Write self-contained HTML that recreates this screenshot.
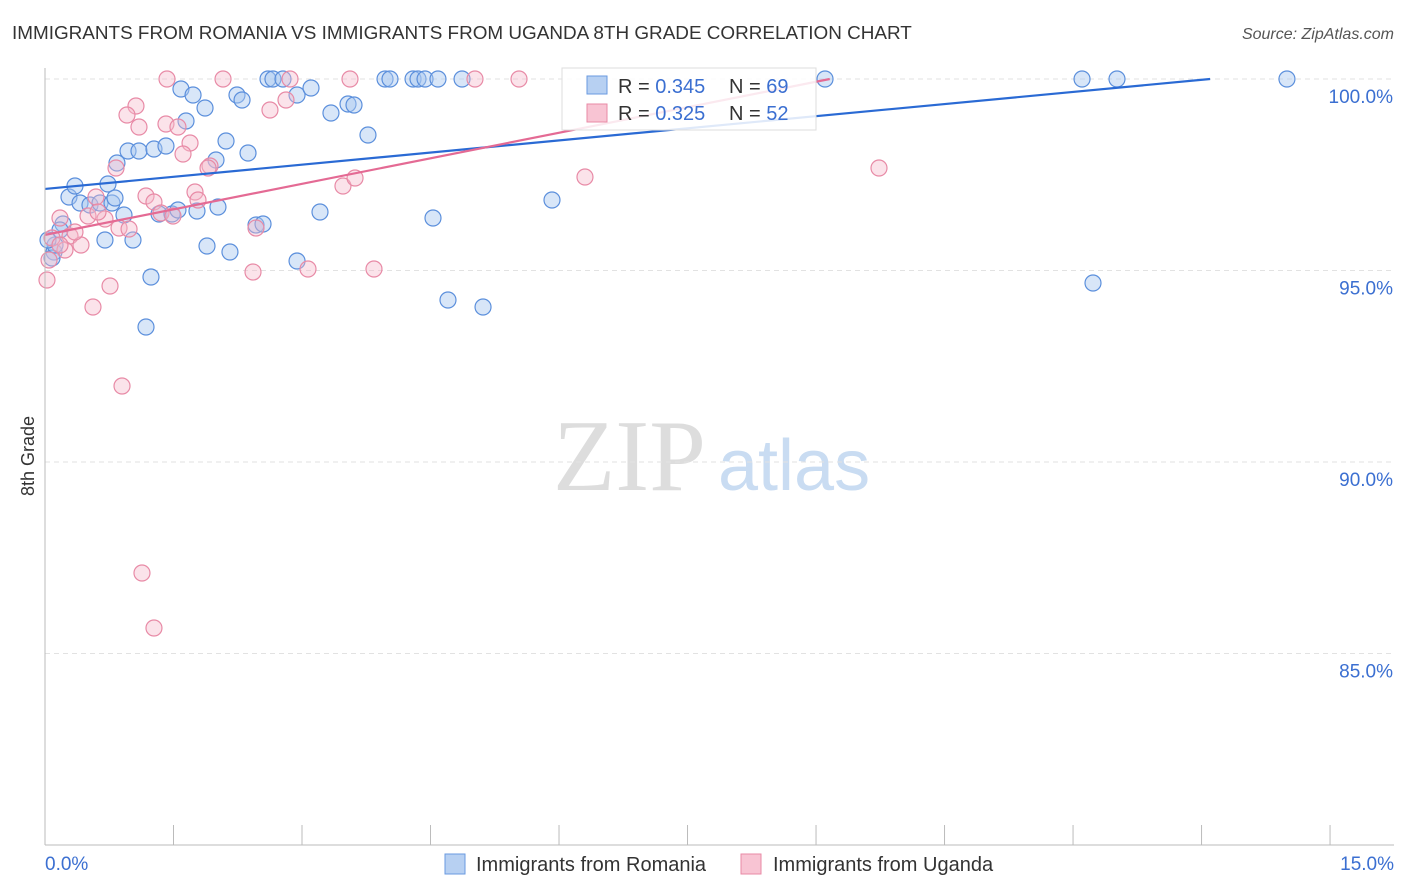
<!DOCTYPE html>
<html><head><meta charset="utf-8"><style>
body{margin:0;background:#fff;font-family:"Liberation Sans",sans-serif}
</style></head><body>
<svg width="1406" height="892" style="display:block">
<text x="12" y="39" font-size="18.9" fill="#333">IMMIGRANTS FROM ROMANIA VS IMMIGRANTS FROM UGANDA 8TH GRADE CORRELATION CHART</text>
<text x="1394" y="39" font-size="16" fill="#555" text-anchor="end" font-style="italic">Source: ZipAtlas.com</text>
<text x="0" y="0" font-size="18" fill="#333" transform="translate(34,456) rotate(-90)" text-anchor="middle">8th Grade</text>
<text x="553" y="490" font-size="102" fill="#ddd" font-family="Liberation Serif">ZIP</text>
<text x="718" y="490" font-size="72" fill="#c9dcf2">atlas</text>
<g id="grid"></g><g id="pts"></g><g id="lines"></g>
<line x1="45" y1="68" x2="45" y2="845" stroke="#bbb"/>
<line x1="45" y1="845" x2="1394" y2="845" stroke="#bbb"/>
<text x="45" y="870" font-size="19" fill="#3b6fd1">0.0%</text>
<text x="1394" y="870" font-size="19" fill="#3b6fd1" text-anchor="end">15.0%</text>
<g>
<rect x="562" y="68" width="254" height="62" fill="#fff" fill-opacity="0.85" stroke="#ddd"/>
<rect x="587" y="76" width="20" height="18" fill="#b7d0f2" stroke="#6a9ae0"/>
<text x="618" y="93" font-size="20" fill="#333">R = <tspan fill="#3b6fd1">0.345</tspan></text>
<text x="729" y="93" font-size="20" fill="#333">N = <tspan fill="#3b6fd1">69</tspan></text>
<rect x="587" y="104" width="20" height="18" fill="#f8c4d3" stroke="#e88aa6"/>
<text x="618" y="120" font-size="20" fill="#333">R = <tspan fill="#3b6fd1">0.325</tspan></text>
<text x="729" y="120" font-size="20" fill="#333">N = <tspan fill="#3b6fd1">52</tspan></text>
</g>
<g>
<rect x="445" y="854" width="20" height="20" fill="#b7d0f2" stroke="#6a9ae0"/>
<text x="476" y="871" font-size="20" fill="#333">Immigrants from Romania</text>
<rect x="741" y="854" width="20" height="20" fill="#f8c4d3" stroke="#e88aa6"/>
<text x="773" y="871" font-size="20" fill="#333">Immigrants from Uganda</text>
</g>
</svg>
<script>
const yTicks=[100,95,90,85];
const xTicks=[0,1.5,3,4.5,6,7.5,9,10.5,12,13.5,15];
const bluePx=[[69,197],[75,186],[63,224],[80,203],[90,205],[100,203],[108,184],[112,203],[124,215],[133,240],[117,163],[128,151],[139,151],[154,149],[166,146],[159,214],[172,214],[178,210],[197,211],[218,207],[207,246],[230,252],[256,225],[263,224],[297,261],[320,212],[433,218],[448,300],[483,307],[552,200],[1093,283],[146,327],[151,277],[181,89],[193,95],[205,108],[186,121],[226,141],[216,160],[248,153],[237,95],[242,100],[268,79],[273,79],[283,79],[297,95],[311,88],[331,113],[348,104],[354,105],[368,135],[385,79],[390,79],[413,79],[418,79],[425,79],[438,79],[462,79],[825,79],[1082,79],[1117,79],[1287,79],[54,252],[52,258],[55,245],[60,230],[105,240],[48,240],[115,198]];
const pinkPx=[[167,79],[223,79],[290,79],[350,79],[475,79],[519,79],[136,106],[127,115],[139,127],[166,124],[178,127],[190,143],[183,154],[210,166],[195,192],[198,200],[146,196],[154,202],[161,213],[119,228],[129,229],[105,219],[88,216],[96,197],[98,212],[70,236],[60,218],[81,245],[65,250],[110,286],[93,307],[122,386],[142,573],[154,628],[253,272],[308,269],[374,269],[343,186],[355,178],[585,177],[879,168],[256,228],[270,110],[286,100],[116,168],[47,280],[52,238],[60,245],[75,232],[173,216],[208,168],[49,260]];
const blueX=bluePx.map(p=>+((p[0]-45)/85.67).toFixed(3)), blueY=bluePx.map(p=>+(100-(p[1]-79)/38.3).toFixed(3));
const pinkX=pinkPx.map(p=>+((p[0]-45)/85.67).toFixed(3)), pinkY=pinkPx.map(p=>+(100-(p[1]-79)/38.3).toFixed(3));
const blueLine=[[0,97.13],[13.6,100]], pinkLine=[[0,95.93],[9.16,100]];
const sx=v=>45+v*85.67, sy=v=>79+(100-v)*38.3;
const NS="http://www.w3.org/2000/svg";
function mk(t,a,parent){const e=document.createElementNS(NS,t);for(const k in a)e.setAttribute(k,a[k]);document.getElementById(parent).appendChild(e);return e;}
yTicks.forEach(v=>{const l=mk('line',{x1:45,x2:1394,y1:sy(v),y2:sy(v),stroke:'#e2e2e2','stroke-dasharray':'5,4'},'grid');


const t=mk('text',{x:1393,y:sy(v)+24,'font-size':19,fill:'#3b6fd1','text-anchor':'end'},'grid');t.textContent=v.toFixed(1)+'%';

});
xTicks.forEach(v=>{const l=mk('line',{x1:sx(v),x2:sx(v),y1:825,y2:845,stroke:'#bbb'},'grid');

});
blueX.forEach((x,i)=>{const c=mk('circle',{cx:sx(x),cy:sy(blueY[i]),r:8,fill:'#a9c7ef','fill-opacity':0.45,stroke:'#5b8fdc','stroke-width':1.2},'pts');

});
pinkX.forEach((x,i)=>{const c=mk('circle',{cx:sx(x),cy:sy(pinkY[i]),r:8,fill:'#f6b9cb','fill-opacity':0.4,stroke:'#e88aa6','stroke-width':1.2},'pts');

});
const bl=mk('line',{x1:sx(blueLine[0][0]),y1:sy(blueLine[0][1]),x2:sx(blueLine[1][0]),y2:sy(blueLine[1][1]),stroke:'#2a6ad4','stroke-width':2.2},'lines');


const pl=mk('line',{x1:sx(pinkLine[0][0]),y1:sy(pinkLine[0][1]),x2:sx(pinkLine[1][0]),y2:sy(pinkLine[1][1]),stroke:'#e46a94','stroke-width':2.2},'lines');


</script>
</body></html>
